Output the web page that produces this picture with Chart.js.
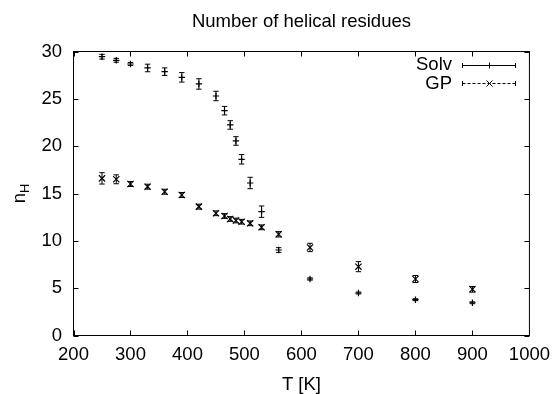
<!DOCTYPE html>
<html>
<head>
<meta charset="utf-8">
<script src="https://cdn.jsdelivr.net/npm/chart.js@4.4.1/dist/chart.umd.min.js"></script>
<style>
  body { margin: 0; background: #fff; }
  #wrap { width: 558px; height: 394px; }
</style>
</head>
<body>
<div id="wrap"><canvas id="chart" width="558" height="394"></canvas></div>
<script>
const temps = [250, 275, 300, 330, 360, 390, 420, 450, 465, 475, 485, 495, 510, 530, 560, 615, 700, 800, 900];
const solv = [29.45, 29.07, 28.68, 28.26, 27.87, 27.27, 26.57, 25.30, 23.75, 22.24, 20.55, 18.61, 16.11, 13.08, 9.03, 5.97, 4.49, 3.78, 3.46];
const solvErr = [0.25, 0.2, 0.15, 0.4, 0.4, 0.5, 0.55, 0.5, 0.45, 0.45, 0.45, 0.5, 0.6, 0.6, 0.25, 0.12, 0.1, 0.1, 0.1];
const gp = [16.60, 16.50, 16.00, 15.72, 15.19, 14.84, 13.61, 12.91, 12.62, 12.31, 12.15, 12.02, 11.85, 11.43, 10.69, 9.30, 7.27, 5.97, 4.88];
const gpErr = [0.6, 0.47, 0.26, 0.26, 0.26, 0.26, 0.26, 0.25, 0.25, 0.25, 0.25, 0.25, 0.25, 0.25, 0.28, 0.44, 0.53, 0.37, 0.3];
const xTicks = [200, 300, 400, 500, 600, 700, 800, 900, 1000];
const yTicks = [0, 5, 10, 15, 20, 25, 30];

const FONT = '"Liberation Sans", Arial, sans-serif';
const FS = 18.5;
const ctx = document.getElementById('chart');

// gnuplot-like error bars, drawn through the scales
const errorBars = {
  id: 'errorBars',
  afterDatasetsDraw(chart) {
    const c = chart.ctx, xs = chart.scales.x, ys = chart.scales.y;
    chart.data.datasets.forEach(ds => {
      c.save();
      c.strokeStyle = '#000';
      c.lineWidth = 1;
      ds.data.forEach((p, i) => {
        const x = xs.getPixelForValue(p.x);
        const y1 = ys.getPixelForValue(p.y - ds.err[i]);
        const y2 = ys.getPixelForValue(p.y + ds.err[i]);
        c.beginPath();
        c.moveTo(x, y1); c.lineTo(x, y2);
        c.moveTo(x - 2.7, y1); c.lineTo(x + 2.7, y1);
        c.moveTo(x - 2.7, y2); c.lineTo(x + 2.7, y2);
        c.stroke();
      });
      c.restore();
    });
  }
};

// box with inward ticks on all four sides, plus y label and key
const frame = {
  id: 'frame',
  afterDraw(chart) {
    const c = chart.ctx, a = chart.chartArea;
    const xs = chart.scales.x, ys = chart.scales.y;
    c.save();
    c.strokeStyle = '#000';
    c.lineWidth = 1;
    c.strokeRect(a.left, a.top, a.right - a.left, a.bottom - a.top);
    c.beginPath();
    xTicks.forEach(v => {
      const x = Math.round(xs.getPixelForValue(v)) + 0.5;
      c.moveTo(x, a.bottom); c.lineTo(x, a.bottom - 5);
      c.moveTo(x, a.top); c.lineTo(x, a.top + 5);
    });
    yTicks.forEach(v => {
      const y = Math.round(ys.getPixelForValue(v)) + 0.5;
      c.moveTo(a.left, y); c.lineTo(a.left + 5, y);
      c.moveTo(a.right, y); c.lineTo(a.right - 5, y);
    });
    c.stroke();

    // y axis label n_H
    c.fillStyle = '#000';
    c.translate(25, (a.top + a.bottom) / 2);
    c.rotate(-Math.PI / 2);
    c.textBaseline = 'alphabetic';
    c.textAlign = 'left';
    c.font = FS + 'px ' + FONT;
    const nw = c.measureText('n').width;
    c.font = '13px ' + FONT;
    const hw = c.measureText('H').width;
    const x0 = -(nw + hw) / 2;
    c.font = FS + 'px ' + FONT;
    c.fillText('n', x0, 0);
    c.font = '13px ' + FONT;
    c.fillText('H', x0 + nw, 4);
    c.restore();

    // key
    c.save();
    c.fillStyle = '#000';
    c.strokeStyle = '#000';
    c.lineWidth = 1;
    c.font = FS + 'px ' + FONT;
    c.textAlign = 'right';
    c.textBaseline = 'middle';
    c.fillText('Solv', 452, 65);
    c.fillText('GP', 452, 84);
    const rows = [{y: 65.5, dash: [], mark: '+'}, {y: 83.5, dash: [3, 2], mark: 'x'}];
    rows.forEach(r => {
      c.setLineDash(r.dash);
      c.beginPath();
      c.moveTo(462.5, r.y); c.lineTo(515.5, r.y);
      c.stroke();
      c.setLineDash([]);
      c.beginPath();
      c.moveTo(462.5, r.y - 2.5); c.lineTo(462.5, r.y + 2.5);
      c.moveTo(515.5, r.y - 2.5); c.lineTo(515.5, r.y + 2.5);
      if (r.mark === '+') {
        c.moveTo(489.5, r.y - 3); c.lineTo(489.5, r.y + 3);
      } else {
        c.moveTo(486.5, r.y - 3); c.lineTo(492.5, r.y + 3);
        c.moveTo(486.5, r.y + 3); c.lineTo(492.5, r.y - 3);
      }
      c.stroke();
    });
    c.restore();
  }
};

new Chart(ctx, {
  type: 'scatter',
  data: {
    datasets: [{
      label: 'Solv',
      data: temps.map((t, i) => ({x: t, y: solv[i]})),
      err: solvErr,
      pointStyle: 'cross',
      pointRadius: 3.2,
      pointBorderWidth: 1.2,
      borderColor: '#000',
      backgroundColor: '#000'
    }, {
      label: 'GP',
      data: temps.map((t, i) => ({x: t, y: gp[i]})),
      err: gpErr,
      pointStyle: 'crossRot',
      pointRadius: 4.4,
      pointBorderWidth: 1.2,
      borderColor: '#000',
      backgroundColor: '#000'
    }]
  },
  options: {
    responsive: false,
    animation: false,
    layout: { padding: { left: 0, right: 23.5, top: 0, bottom: 0 } },
    plugins: {
      legend: { display: false },
      tooltip: { enabled: false },
      title: {
        display: true,
        fullSize: false,
        text: 'Number of helical residues',
        color: '#000',
        font: { family: FONT, size: FS, weight: 'normal' },
        padding: { top: 10.9, bottom: 18.4 }
      }
    },
    scales: {
      x: {
        type: 'linear',
        min: 200,
        max: 1000,
        afterFit: s => { s.height = 58.5; },
        grid: { display: false, drawTicks: false },
        border: { display: false },
        ticks: { stepSize: 100, padding: 8, color: '#000', font: { family: FONT, size: FS },
                 callback: v => String(v) },
        title: { display: true, text: 'T [K]', color: '#000', padding: 0,
                 font: { family: FONT, size: FS, lineHeight: 1 } }
      },
      y: {
        min: 0,
        max: 30,
        afterFit: s => { s.width = 73.5; },
        grid: { display: false, drawTicks: false },
        border: { display: false },
        ticks: { stepSize: 5, padding: 11.5, color: '#000', font: { family: FONT, size: FS } }
      }
    }
  },
  plugins: [errorBars, frame]
});
</script>
</body>
</html>
